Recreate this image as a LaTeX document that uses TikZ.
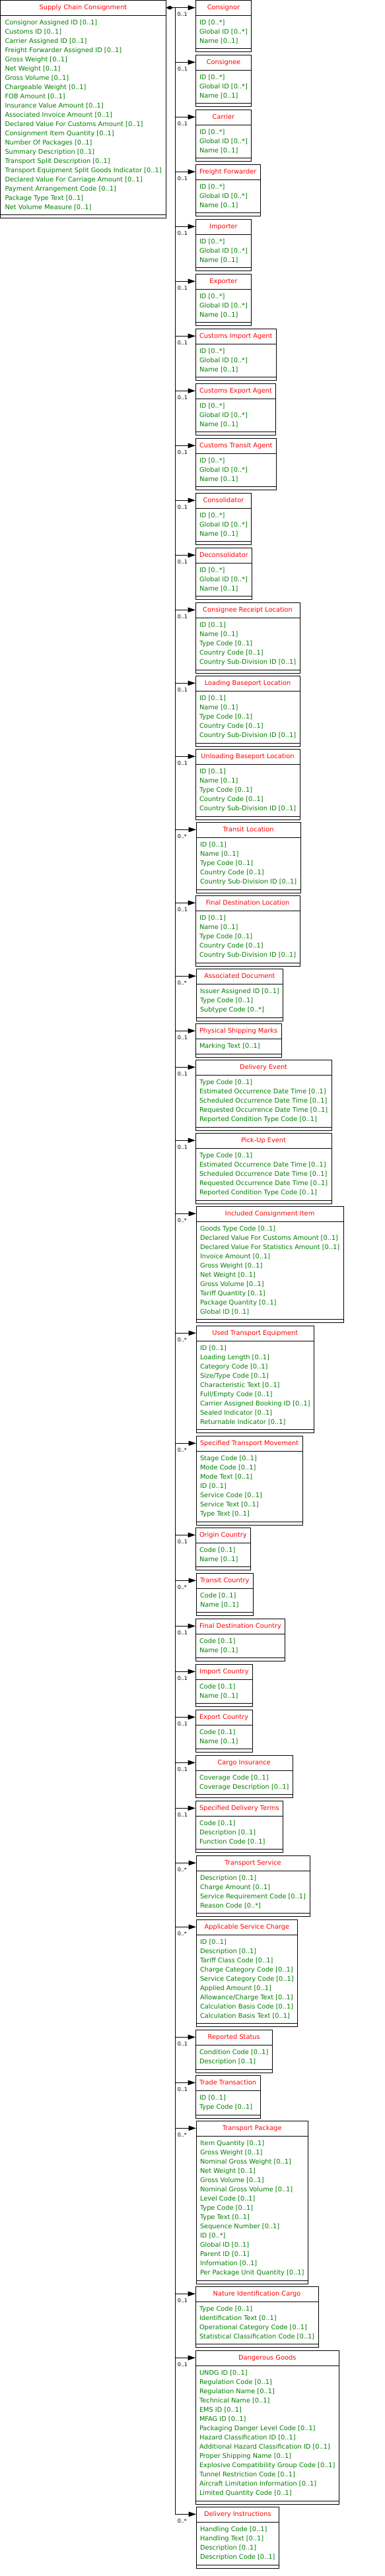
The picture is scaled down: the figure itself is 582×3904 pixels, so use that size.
\documentclass[tikz,border=0pt]{standalone}
\usepackage{fontspec}
\newfontfamily\umlfont{DejaVu Sans}
\usetikzlibrary{shapes.multipart,arrows.meta}
\definecolor{titlered}{RGB}{255,0,0}
\definecolor{attrgreen}{RGB}{0,128,0}
\tikzset{
  cls/.style={draw, line width=1pt, rectangle split, rectangle split parts=2,
    rectangle split part align={center,left}, align=left, anchor=north west,
    inner xsep=6pt, inner ysep=6.15pt, text depth=2.3pt, outer sep=0pt,
    font=\umlfont\fontsize{9.8}{14}\selectfont, text=attrgreen,
    every text node part/.style={text=titlered},
    append after command={\pgfextra{\draw[line width=1pt] (\tikzlastnode.south west) rectangle ([yshift=-5pt]\tikzlastnode.south east);}}},
  link/.style={line width=1pt, -{Triangle[length=11.5pt,width=7.5pt]}},
  mult/.style={font=\umlfont\fontsize{8}{9}\selectfont, inner sep=0pt, anchor=north west, xshift=3pt, yshift=-7pt}
}
\begin{document}
\begin{tikzpicture}[x=1pt, y=-1pt]
\useasboundingbox (0,0) rectangle (582,3904);
% main class
\node[cls, inner xsep=7pt] (scc) at (0.5,0.7) {Supply Chain Consignment\nodepart{two}%
  Consignor Assigned ID [0..1]\\ Customs ID [0..1]\\ Carrier Assigned ID [0..1]\\
  Freight Forwarder Assigned ID [0..1]\\ Gross Weight [0..1]\\ Net Weight [0..1]\\
  Gross Volume [0..1]\\ Chargeable Weight [0..1]\\ FOB Amount [0..1]\\
  Insurance Value Amount [0..1]\\ Associated Invoice Amount [0..1]\\
  Declared Value For Customs Amount [0..1]\\ Consignment Item Quantity [0..1]\\
  Number Of Packages [0..1]\\ Summary Description [0..1]\\
  Transport Split Description [0..1]\\ Transport Equipment Split Goods Indicator [0..1]\\
  Declared Value For Carriage Amount [0..1]\\ Payment Arrangement Code [0..1]\\
  Package Type Text [0..1]\\ Net Volume Measure [0..1]};
\coordinate (trunk) at (265.3,11.7);
% parties
\node[cls] (cnor) at (296,0.7) {Consignor\nodepart{two}ID [0..*]\\ Global ID [0..*]\\ Name [0..1]};
\node[cls] (cnee) at (296,83.3) {Consignee\nodepart{two}ID [0..*]\\ Global ID [0..*]\\ Name [0..1]};
\node[cls] (carr) at (296,166.3) {Carrier\nodepart{two}ID [0..*]\\ Global ID [0..*]\\ Name [0..1]};
\node[cls] (ffwd) at (296,249.3) {Freight Forwarder\nodepart{two}ID [0..*]\\ Global ID [0..*]\\ Name [0..1]};
\node[cls] (impr) at (296,332.3) {Importer\nodepart{two}ID [0..*]\\ Global ID [0..*]\\ Name [0..1]};
\node[cls] (expr) at (296,415.3) {Exporter\nodepart{two}ID [0..*]\\ Global ID [0..*]\\ Name [0..1]};
\node[cls] (cimp) at (296,498.3) {Customs Import Agent\nodepart{two}ID [0..*]\\ Global ID [0..*]\\ Name [0..1]};
\node[cls] (cexp) at (296,581.3) {Customs Export Agent\nodepart{two}ID [0..*]\\ Global ID [0..*]\\ Name [0..1]};
\node[cls] (ctra) at (296,664.3) {Customs Transit Agent\nodepart{two}ID [0..*]\\ Global ID [0..*]\\ Name [0..1]};
\node[cls] (cons) at (296,747.3) {Consolidator\nodepart{two}ID [0..*]\\ Global ID [0..*]\\ Name [0..1]};
\node[cls] (dcon) at (296,830.3) {Deconsolidator\nodepart{two}ID [0..*]\\ Global ID [0..*]\\ Name [0..1]};
% locations
\node[cls] (crl) at (296,913.3) {Consignee Receipt Location\nodepart{two}ID [0..1]\\ Name [0..1]\\ Type Code [0..1]\\ Country Code [0..1]\\ Country Sub-Division ID [0..1]};
\node[cls] (lbl) at (296,1024.3) {Loading Baseport Location\nodepart{two}ID [0..1]\\ Name [0..1]\\ Type Code [0..1]\\ Country Code [0..1]\\ Country Sub-Division ID [0..1]};
\node[cls] (ubl) at (296,1135.3) {Unloading Baseport Location\nodepart{two}ID [0..1]\\ Name [0..1]\\ Type Code [0..1]\\ Country Code [0..1]\\ Country Sub-Division ID [0..1]};
\node[cls] (tloc) at (297,1246.3) {Transit Location\nodepart{two}ID [0..1]\\ Name [0..1]\\ Type Code [0..1]\\ Country Code [0..1]\\ Country Sub-Division ID [0..1]};
\node[cls] (fdl) at (296,1357.3) {Final Destination Location\nodepart{two}ID [0..1]\\ Name [0..1]\\ Type Code [0..1]\\ Country Code [0..1]\\ Country Sub-Division ID [0..1]};
% documents and events
\node[cls] (adoc) at (297,1468.3) {Associated Document\nodepart{two}Issuer Assigned ID [0..1]\\ Type Code [0..1]\\ Subtype Code [0..*]};
\node[cls] (psm) at (296,1551.3) {Physical Shipping Marks\nodepart{two}Marking Text [0..1]};
\node[cls] (dev) at (296,1606.3) {Delivery Event\nodepart{two}Type Code [0..1]\\ Estimated Occurrence Date Time [0..1]\\
  Scheduled Occurrence Date Time [0..1]\\ Requested Occurrence Date Time [0..1]\\ Reported Condition Type Code [0..1]};
\node[cls] (pev) at (296,1717.3) {Pick-Up Event\nodepart{two}Type Code [0..1]\\ Estimated Occurrence Date Time [0..1]\\
  Scheduled Occurrence Date Time [0..1]\\ Requested Occurrence Date Time [0..1]\\ Reported Condition Type Code [0..1]};
\node[cls] (ici) at (297,1828.3) {Included Consignment Item\nodepart{two}Goods Type Code [0..1]\\
  Declared Value For Customs Amount [0..1]\\ Declared Value For Statistics Amount [0..1]\\
  Invoice Amount [0..1]\\ Gross Weight [0..1]\\ Net Weight [0..1]\\ Gross Volume [0..1]\\
  Tariff Quantity [0..1]\\ Package Quantity [0..1]\\ Global ID [0..1]};
% transport
\node[cls] (ute) at (297,2009.3) {Used Transport Equipment\nodepart{two}ID [0..1]\\ Loading Length [0..1]\\
  Category Code [0..1]\\ Size/Type Code [0..1]\\ Characteristic Text [0..1]\\ Full/Empty Code [0..1]\\
  Carrier Assigned Booking ID [0..1]\\ Sealed Indicator [0..1]\\ Returnable Indicator [0..1]};
\node[cls] (stm) at (297,2176.3) {Specified Transport Movement\nodepart{two}Stage Code [0..1]\\ Mode Code [0..1]\\
  Mode Text [0..1]\\ ID [0..1]\\ Service Code [0..1]\\ Service Text [0..1]\\ Type Text [0..1]};
% countries
\node[cls] (ocn) at (296,2315.3) {Origin Country\nodepart{two}Code [0..1]\\ Name [0..1]};
\node[cls] (tcn) at (297,2384.3) {Transit Country\nodepart{two}Code [0..1]\\ Name [0..1]};
\node[cls] (fdc) at (296,2453.3) {Final Destination Country\nodepart{two}Code [0..1]\\ Name [0..1]};
\node[cls] (icn) at (296,2522.3) {Import Country\nodepart{two}Code [0..1]\\ Name [0..1]};
\node[cls] (ecn) at (296,2591.3) {Export Country\nodepart{two}Code [0..1]\\ Name [0..1]};
% terms and charges
\node[cls] (cins) at (296,2660.3) {Cargo Insurance\nodepart{two}Coverage Code [0..1]\\ Coverage Description [0..1]};
\node[cls] (sdt) at (296,2729.3) {Specified Delivery Terms\nodepart{two}Code [0..1]\\ Description [0..1]\\ Function Code [0..1]};
\node[cls] (tsv) at (297,2812.3) {Transport Service\nodepart{two}Description [0..1]\\ Charge Amount [0..1]\\
  Service Requirement Code [0..1]\\ Reason Code [0..*]};
\node[cls] (asc) at (297,2909.3) {Applicable Service Charge\nodepart{two}ID [0..1]\\ Description [0..1]\\
  Tariff Class Code [0..1]\\ Charge Category Code [0..1]\\ Service Category Code [0..1]\\
  Applied Amount [0..1]\\ Allowance/Charge Text [0..1]\\ Calculation Basis Code [0..1]\\ Calculation Basis Text [0..1]};
\node[cls] (rst) at (296,3076.3) {Reported Status\nodepart{two}Condition Code [0..1]\\ Description [0..1]};
\node[cls] (ttr) at (296,3145.3) {Trade Transaction\nodepart{two}ID [0..1]\\ Type Code [0..1]};
% packages and goods
\node[cls] (tpk) at (297,3214.3) {Transport Package\nodepart{two}Item Quantity [0..1]\\ Gross Weight [0..1]\\
  Nominal Gross Weight [0..1]\\ Net Weight [0..1]\\ Gross Volume [0..1]\\ Nominal Gross Volume [0..1]\\
  Level Code [0..1]\\ Type Code [0..1]\\ Type Text [0..1]\\ Sequence Number [0..1]\\ ID [0..*]\\
  Global ID [0..1]\\ Parent ID [0..1]\\ Information [0..1]\\ Per Package Unit Quantity [0..1]};
\node[cls] (nic) at (296,3465.3) {Nature Identification Cargo\nodepart{two}Type Code [0..1]\\ Identification Text [0..1]\\
  Operational Category Code [0..1]\\ Statistical Classification Code [0..1]};
\node[cls] (dgd) at (296,3562.3) {Dangerous Goods\nodepart{two}UNDG ID [0..1]\\ Regulation Code [0..1]\\
  Regulation Name [0..1]\\ Technical Name [0..1]\\ EMS ID [0..1]\\ MFAG ID [0..1]\\
  Packaging Danger Level Code [0..1]\\ Hazard Classification ID [0..1]\\
  Additional Hazard Classification ID [0..1]\\ Proper Shipping Name [0..1]\\
  Explosive Compatibility Group Code [0..1]\\ Tunnel Restriction Code [0..1]\\
  Aircraft Limitation Information [0..1]\\ Limited Quantity Code [0..1]};
\node[cls] (dins) at (297,3799.3) {Delivery Instructions\nodepart{two}Handling Code [0..1]\\ Handling Text [0..1]\\
  Description [0..1]\\ Description Code [0..1]};
% links
\draw[link, {Diamond[length=11pt,width=6pt]}-{Triangle[length=11.5pt,width=7.5pt]}] ([yshift=-11pt]scc.north east) -- ([yshift=-11pt]cnor.north west);
\node[mult] (cnor-m) at (trunk) {0..1};
\draw[line width=1pt] (trunk) -- ([yshift=-11pt]dins.north west -| trunk);
\draw[link] ([yshift=-11pt]cnee.north west -| trunk) -- ([yshift=-11pt]cnee.north west) node[mult, at start] (cnee-m) {0..1};
\draw[link] ([yshift=-11pt]carr.north west -| trunk) -- ([yshift=-11pt]carr.north west) node[mult, at start] (carr-m) {0..1};
\draw[link] ([yshift=-11pt]ffwd.north west -| trunk) -- ([yshift=-11pt]ffwd.north west) node[mult, at start] (ffwd-m) {0..1};
\draw[link] ([yshift=-11pt]impr.north west -| trunk) -- ([yshift=-11pt]impr.north west) node[mult, at start] (impr-m) {0..1};
\draw[link] ([yshift=-11pt]expr.north west -| trunk) -- ([yshift=-11pt]expr.north west) node[mult, at start] (expr-m) {0..1};
\draw[link] ([yshift=-11pt]cimp.north west -| trunk) -- ([yshift=-11pt]cimp.north west) node[mult, at start] (cimp-m) {0..1};
\draw[link] ([yshift=-11pt]cexp.north west -| trunk) -- ([yshift=-11pt]cexp.north west) node[mult, at start] (cexp-m) {0..1};
\draw[link] ([yshift=-11pt]ctra.north west -| trunk) -- ([yshift=-11pt]ctra.north west) node[mult, at start] (ctra-m) {0..1};
\draw[link] ([yshift=-11pt]cons.north west -| trunk) -- ([yshift=-11pt]cons.north west) node[mult, at start] (cons-m) {0..1};
\draw[link] ([yshift=-11pt]dcon.north west -| trunk) -- ([yshift=-11pt]dcon.north west) node[mult, at start] (dcon-m) {0..1};
\draw[link] ([yshift=-11pt]crl.north west -| trunk) -- ([yshift=-11pt]crl.north west) node[mult, at start] (crl-m) {0..1};
\draw[link] ([yshift=-11pt]lbl.north west -| trunk) -- ([yshift=-11pt]lbl.north west) node[mult, at start] (lbl-m) {0..1};
\draw[link] ([yshift=-11pt]ubl.north west -| trunk) -- ([yshift=-11pt]ubl.north west) node[mult, at start] (ubl-m) {0..1};
\draw[link] ([yshift=-11pt]tloc.north west -| trunk) -- ([yshift=-11pt]tloc.north west) node[mult, at start] (tloc-m) {0..*};
\draw[link] ([yshift=-11pt]fdl.north west -| trunk) -- ([yshift=-11pt]fdl.north west) node[mult, at start] (fdl-m) {0..1};
\draw[link] ([yshift=-11pt]adoc.north west -| trunk) -- ([yshift=-11pt]adoc.north west) node[mult, at start] (adoc-m) {0..*};
\draw[link] ([yshift=-11pt]psm.north west -| trunk) -- ([yshift=-11pt]psm.north west) node[mult, at start] (psm-m) {0..1};
\draw[link] ([yshift=-11pt]dev.north west -| trunk) -- ([yshift=-11pt]dev.north west) node[mult, at start] (dev-m) {0..1};
\draw[link] ([yshift=-11pt]pev.north west -| trunk) -- ([yshift=-11pt]pev.north west) node[mult, at start] (pev-m) {0..1};
\draw[link] ([yshift=-11pt]ici.north west -| trunk) -- ([yshift=-11pt]ici.north west) node[mult, at start] (ici-m) {0..*};
\draw[link] ([yshift=-11pt]ute.north west -| trunk) -- ([yshift=-11pt]ute.north west) node[mult, at start] (ute-m) {0..*};
\draw[link] ([yshift=-11pt]stm.north west -| trunk) -- ([yshift=-11pt]stm.north west) node[mult, at start] (stm-m) {0..*};
\draw[link] ([yshift=-11pt]ocn.north west -| trunk) -- ([yshift=-11pt]ocn.north west) node[mult, at start] (ocn-m) {0..1};
\draw[link] ([yshift=-11pt]tcn.north west -| trunk) -- ([yshift=-11pt]tcn.north west) node[mult, at start] (tcn-m) {0..*};
\draw[link] ([yshift=-11pt]fdc.north west -| trunk) -- ([yshift=-11pt]fdc.north west) node[mult, at start] (fdc-m) {0..1};
\draw[link] ([yshift=-11pt]icn.north west -| trunk) -- ([yshift=-11pt]icn.north west) node[mult, at start] (icn-m) {0..1};
\draw[link] ([yshift=-11pt]ecn.north west -| trunk) -- ([yshift=-11pt]ecn.north west) node[mult, at start] (ecn-m) {0..1};
\draw[link] ([yshift=-11pt]cins.north west -| trunk) -- ([yshift=-11pt]cins.north west) node[mult, at start] (cins-m) {0..1};
\draw[link] ([yshift=-11pt]sdt.north west -| trunk) -- ([yshift=-11pt]sdt.north west) node[mult, at start] (sdt-m) {0..1};
\draw[link] ([yshift=-11pt]tsv.north west -| trunk) -- ([yshift=-11pt]tsv.north west) node[mult, at start] (tsv-m) {0..*};
\draw[link] ([yshift=-11pt]asc.north west -| trunk) -- ([yshift=-11pt]asc.north west) node[mult, at start] (asc-m) {0..*};
\draw[link] ([yshift=-11pt]rst.north west -| trunk) -- ([yshift=-11pt]rst.north west) node[mult, at start] (rst-m) {0..1};
\draw[link] ([yshift=-11pt]ttr.north west -| trunk) -- ([yshift=-11pt]ttr.north west) node[mult, at start] (ttr-m) {0..1};
\draw[link] ([yshift=-11pt]tpk.north west -| trunk) -- ([yshift=-11pt]tpk.north west) node[mult, at start] (tpk-m) {0..*};
\draw[link] ([yshift=-11pt]nic.north west -| trunk) -- ([yshift=-11pt]nic.north west) node[mult, at start] (nic-m) {0..1};
\draw[link] ([yshift=-11pt]dgd.north west -| trunk) -- ([yshift=-11pt]dgd.north west) node[mult, at start] (dgd-m) {0..1};
\draw[link] ([yshift=-11pt]dins.north west -| trunk) -- ([yshift=-11pt]dins.north west) node[mult, at start] (dins-m) {0..*};
\end{tikzpicture}
\end{document}
